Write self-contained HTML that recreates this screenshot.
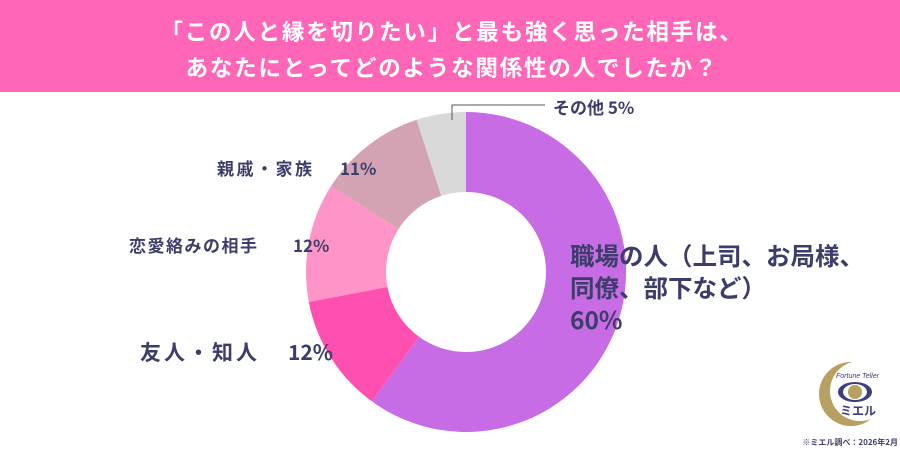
<!DOCTYPE html>
<html><head><meta charset="utf-8"><style>
body{margin:0;width:900px;height:450px;background:#fff;overflow:hidden;font-family:"Liberation Sans","Noto Sans CJK JP",sans-serif}
</style></head><body>
<svg width="900" height="450" xmlns="http://www.w3.org/2000/svg" style="font-family:'Noto Sans CJK JP','Liberation Sans',sans-serif">
<rect x="0" y="0" width="900" height="92" fill="#ff66b8"/>
<text x="452" y="40" text-anchor="middle" fill="#fff" font-size="22.5" font-weight="bold" letter-spacing="1.8">「この人と縁を切りたい」と最も強く思った相手は、</text>
<text x="452" y="76" text-anchor="middle" fill="#fff" font-size="22.5" font-weight="bold" letter-spacing="1.8">あなたにとってどのような関係性の人でしたか？</text>
<g>
<path d="M466 112 A160 160 0 1 1 371.95 401.4 L419 336.7 A80 80 0 1 0 466 192 Z" fill="#c86ce6"/>
<path d="M371.95 401.4 A160 160 0 0 1 308.8 302 L387.4 287 A80 80 0 0 0 419 336.7 Z" fill="#ff4fb0"/>
<path d="M308.8 302 A160 160 0 0 1 330.9 186.3 L398.5 229.1 A80 80 0 0 0 387.4 287 Z" fill="#ff94c8"/>
<path d="M330.9 186.3 A160 160 0 0 1 416.6 119.8 L441.3 195.9 A80 80 0 0 0 398.5 229.1 Z" fill="#d4a3b3"/>
<path d="M416.6 119.8 A160 160 0 0 1 466 112 L466 192 A80 80 0 0 0 441.3 195.9 Z" fill="#d9d9d9"/>
</g>
<polyline points="452,120 452,105 545,105" fill="none" stroke="#555" stroke-width="1"/>
<g fill="#3d3d6b" font-weight="bold">
<text x="553" y="114" font-size="17">その他 5%</text>
<text x="217" y="175" font-size="17" letter-spacing="2.5">親戚・家族</text>
<text x="340" y="175" font-size="17">11%</text>
<text x="129" y="252" font-size="17" letter-spacing="1.5">恋愛絡みの相手</text>
<text x="293" y="252" font-size="17">12%</text>
<text x="140" y="360" font-size="21" letter-spacing="3">友人・知人</text>
<text x="288" y="360" font-size="21">12%</text>
<text x="570" y="265" font-size="24.5">職場の人（上司、お局様、</text>
<text x="570" y="297" font-size="24.5">同僚、部下など）</text>
<text x="570" y="329" font-size="24.5">60%</text>
</g>
<g>
<circle cx="851" cy="394" r="32" fill="#b8a060"/>
<circle cx="860" cy="391" r="30" fill="#fff"/>
<ellipse cx="855" cy="392" rx="17" ry="10" fill="#3d3d80"/>
<ellipse cx="855" cy="392" rx="12" ry="8" fill="#fff"/>
<circle cx="855" cy="392" r="7" fill="#b8a060"/>
<text x="836" y="378" font-size="7" fill="#3d3d80" font-style="italic" font-family="Liberation Sans">Fortune Teller</text>
<text x="840" y="415" font-size="12" font-weight="bold" fill="#3d3d80">ミエル</text>
</g>
<text x="898" y="445" text-anchor="end" font-size="8" fill="#3d3d6b" font-weight="bold">※ミエル調べ：2026年2月</text>
</svg>
</body></html>
